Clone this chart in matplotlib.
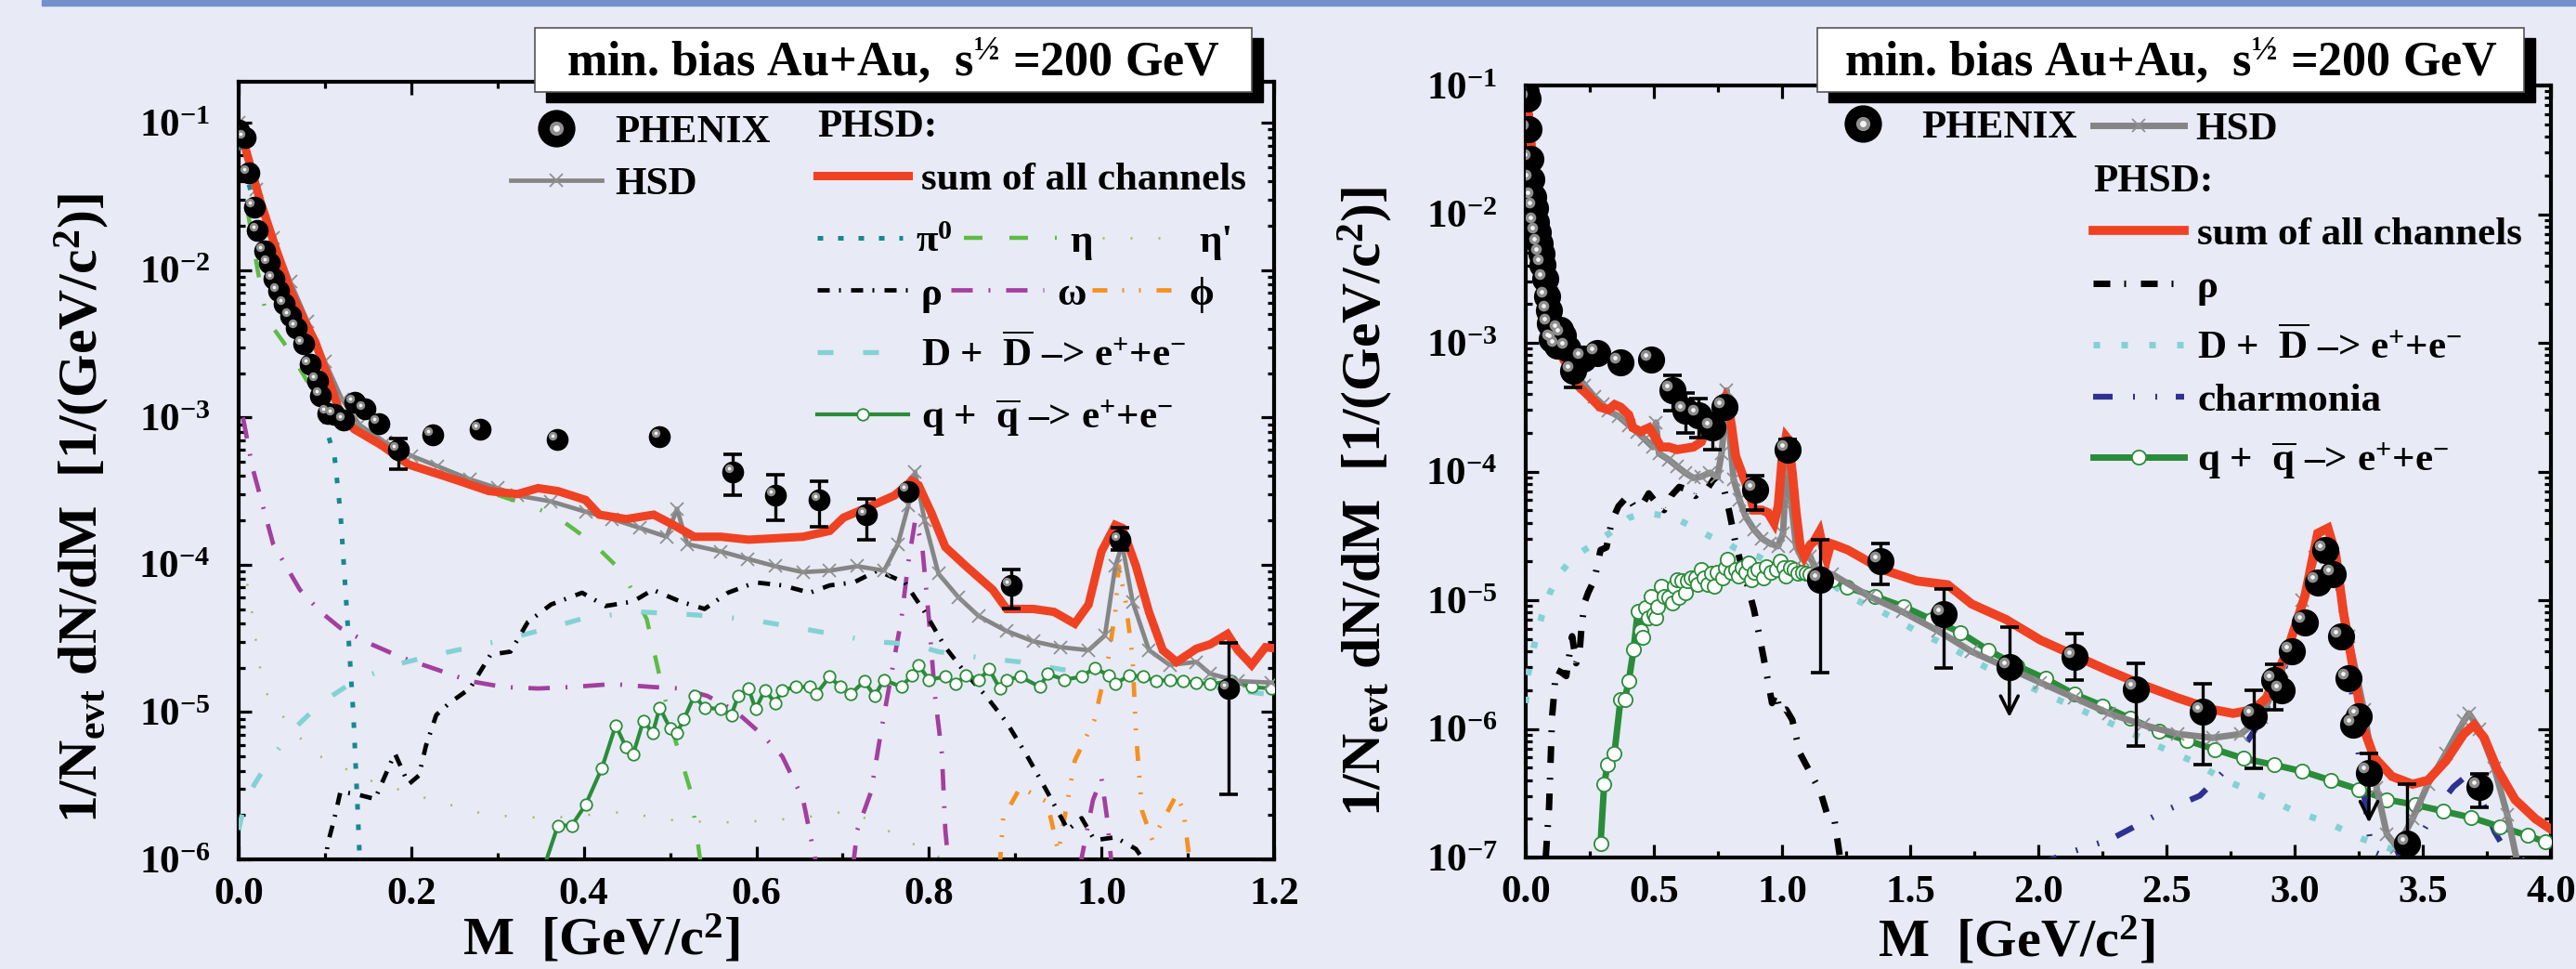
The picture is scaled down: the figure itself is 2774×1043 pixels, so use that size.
"""Dielectron mass spectra, min. bias Au+Au at 200 GeV: PHENIX vs PHSD / HSD."""
import numpy as np
import matplotlib
matplotlib.use('Agg')
from matplotlib import pyplot as plt
from matplotlib import transforms as mtransforms
from matplotlib.legend import Legend
from matplotlib.lines import Line2D
from matplotlib.patches import Rectangle
from matplotlib.ticker import LogLocator, MultipleLocator, NullFormatter

plt.rcParams['font.family'] = ['Liberation Serif', 'DejaVu Serif']
plt.rcParams['font.weight'] = 'bold'
plt.rcParams['axes.labelweight'] = 'bold'
plt.rcParams['mathtext.fontset'] = 'custom'
plt.rcParams['mathtext.rm'] = 'Liberation Serif:bold'
plt.rcParams['mathtext.it'] = 'Liberation Serif:bold'
plt.rcParams['mathtext.bf'] = 'Liberation Serif:bold'
plt.rcParams['lines.scale_dashes'] = False

# ---------------- data ----------------
# y values are stored as log10(1/N dN/dM)

# PHENIX points; nan = no visible bar / no arrow
phx_m = [0.000, 0.007, 0.012, 0.018, 0.022, 0.030, 0.035, 0.041, 0.046, 0.053,
         0.060, 0.067, 0.075, 0.083, 0.091, 0.095, 0.103, 0.111, 0.122, 0.134,
         0.146, 0.162, 0.185, 0.225, 0.280, 0.369, 0.488, 0.573, 0.622, 0.673,
         0.727, 0.776, 0.895, 1.021, 1.147, 1.385, 1.630, 1.887, 2.140, 2.380,
         2.640, 2.840, 2.920, 2.950, 2.990, 3.040, 3.090, 3.120, 3.150, 3.180,
         3.210, 3.230, 3.250, 3.290, 3.440, 3.720]
phx_lg = [-1.05, -1.10, -1.34, -1.57, -1.73, -1.87, -1.95, -2.06, -2.14, -2.23,
          -2.31, -2.39, -2.50, -2.64, -2.75, -2.85, -2.97, -2.98, -3.02, -2.90,
          -2.94, -3.04, -3.22, -3.12, -3.08, -3.15, -3.13, -3.37, -3.53, -3.56,
          -3.66, -3.50, -4.14, -3.83, -4.84, -4.70, -5.11, -5.52, -5.44, -5.69,
          -5.87, -5.90, -5.62, -5.70, -5.40, -5.17, -4.86, -4.61, -4.80, -5.28,
          -5.61, -5.97, -5.90, -6.34, -6.89, -6.45]
nan = np.nan
phx_lg_hi = [nan] * 22 + [-3.14, nan, nan, nan, nan, -3.25, -3.39, -3.43,
                          -3.55, nan, -4.03, -3.75, -4.53, -4.56, -4.91, -5.21, -5.26, -5.49,
                          -5.65, -5.70, -5.50, nan, nan, nan, nan, nan, nan, nan,
                          nan, nan, nan, -6.19, -6.43, -6.35]
phx_lg_lo = [nan] * 22 + [-3.35, nan, nan, nan, nan, -3.53, -3.70, -3.74,
                          -3.83, nan, -4.30, -3.90, -5.56, -4.88, -5.53, nan, -5.62, -6.13,
                          -6.28, -6.31, -5.85, nan, nan, nan, nan, nan, nan, nan,
                          nan, nan, nan, nan, -7.30, -6.61]
phx_lg_lim = [nan] * 37 + [-5.91] + [nan] * 15 + [-6.73, nan, nan]

# PHSD: sum of all channels
sum_m = [0.0, 0.007, 0.025, 0.043, 0.060, 0.075, 0.089, 0.103, 0.118, 0.134,
         0.166, 0.197, 0.229, 0.260, 0.290, 0.323, 0.347, 0.370, 0.402, 0.418,
         0.449, 0.481, 0.504, 0.528, 0.559, 0.591, 0.622, 0.654, 0.685, 0.701,
         0.733, 0.760, 0.780, 0.788, 0.803, 0.819, 0.843, 0.874, 0.890, 0.921,
         0.945, 0.969, 0.985, 1.000, 1.016, 1.024, 1.040, 1.055, 1.071, 1.087,
         1.110, 1.126, 1.146, 1.158, 1.174, 1.190, 1.205, 1.257, 1.390, 1.525,
         1.646, 1.740, 1.874, 2.008, 2.142, 2.276, 2.410, 2.544, 2.680, 2.760,
         2.840, 2.890, 2.970, 3.040, 3.090, 3.130, 3.160, 3.190, 3.230, 3.270,
         3.310, 3.380, 3.460, 3.520, 3.590, 3.660, 3.700, 3.740, 3.790, 3.860,
         3.940, 4.000]
sum_lg = [-1.05, -1.155, -1.53, -1.85, -2.14, -2.33, -2.49, -2.72, -2.98, -3.08,
          -3.19, -3.32, -3.38, -3.44, -3.50, -3.52, -3.48, -3.50, -3.56, -3.66,
          -3.69, -3.66, -3.73, -3.81, -3.81, -3.83, -3.82, -3.81, -3.77, -3.68,
          -3.60, -3.53, -3.43, -3.46, -3.65, -3.88, -4.01, -4.17, -4.30, -4.30,
          -4.32, -4.40, -4.27, -3.91, -3.73, -3.75, -4.01, -4.32, -4.58, -4.66,
          -4.57, -4.54, -4.47, -4.58, -4.68, -4.56, -4.57, -4.61, -4.76, -4.85,
          -4.88, -5.03, -5.15, -5.31, -5.43, -5.55, -5.66, -5.76, -5.85, -5.88,
          -5.85, -5.76, -5.40, -4.97, -4.48, -4.44, -4.64, -5.09, -5.55, -6.00,
          -6.22, -6.37, -6.43, -6.40, -6.25, -6.04, -5.97, -6.07, -6.31, -6.55,
          -6.70, -6.78]

# HSD
hsd_m = [0.0, 0.02, 0.04, 0.06, 0.08, 0.10, 0.12, 0.14, 0.17, 0.20,
         0.23, 0.268, 0.30, 0.323, 0.362, 0.402, 0.433, 0.465, 0.496, 0.508,
         0.52, 0.559, 0.59, 0.622, 0.654, 0.685, 0.717, 0.748, 0.764, 0.776,
         0.784, 0.795, 0.811, 0.834, 0.858, 0.89, 0.921, 0.953, 0.985, 1.004,
         1.016, 1.024, 1.036, 1.055, 1.079, 1.11, 1.126, 1.158, 1.197, 1.34,
         1.47, 1.61, 1.74, 1.874, 2.008, 2.142, 2.276, 2.41, 2.544, 2.68,
         2.79, 2.87, 2.95, 3.03, 3.08, 3.12, 3.17, 3.21, 3.27, 3.32,
         3.36, 3.40, 3.46, 3.52, 3.59, 3.66, 3.68, 3.72, 3.78, 3.83, 3.87]
hsd_lg = [-1.00, -1.45, -1.78, -2.08, -2.35, -2.62, -2.88, -3.05, -3.17, -3.26,
          -3.33, -3.42, -3.48, -3.53, -3.57, -3.64, -3.69, -3.75, -3.81, -3.62,
          -3.86, -3.91, -3.96, -4.01, -4.05, -4.04, -4.01, -4.04, -3.86, -3.60,
          -3.37, -3.70, -4.06, -4.22, -4.35, -4.45, -4.52, -4.56, -4.58, -4.48,
          -4.01, -3.86, -4.25, -4.58, -4.68, -4.66, -4.74, -4.79, -4.80, -4.97,
          -5.09, -5.24, -5.40, -5.52, -5.64, -5.76, -5.88, -5.97, -6.04, -6.07,
          -6.04, -5.91, -5.55, -5.00, -4.67, -4.55, -4.79, -5.28, -5.85, -6.46,
          -6.82, -6.92, -6.70, -6.43, -6.19, -5.94, -5.88, -6.00, -6.31, -6.67, -7.05]

# single channels
pi0_m = [0.0, 0.02, 0.04, 0.06, 0.08, 0.10, 0.111, 0.118, 0.126, 0.133, 0.138, 0.141]
pi0_lg = [-1.15, -1.60, -2.00, -2.35, -2.70, -3.05, -3.26, -3.65, -4.37, -5.02, -5.67, -6.10]

eta_m = [0.011, 0.022, 0.030, 0.036, 0.052, 0.063, 0.079, 0.111, 0.150, 0.189,
         0.229, 0.268, 0.307, 0.339, 0.370, 0.410, 0.445, 0.473, 0.488, 0.504,
         0.524, 0.536]
eta_lg = [-1.62, -2.00, -2.25, -2.36, -2.49, -2.59, -2.75, -2.95, -3.12, -3.25,
          -3.38, -3.46, -3.54, -3.60, -3.68, -3.85, -4.05, -4.37, -4.76, -5.15,
          -5.54, -6.05]

etap_m = [0.0, 0.012, 0.016, 0.024, 0.032, 0.06, 0.087, 0.15, 0.22, 0.289,
          0.36, 0.443, 0.51, 0.577, 0.65, 0.71, 0.757, 0.80, 0.85]
etap_lg = [-3.95, -4.17, -4.35, -4.68, -4.87, -5.10, -5.28, -5.46, -5.59, -5.70,
           -5.72, -5.68, -5.74, -5.75, -5.72, -5.67, -5.82, -5.95, -6.10]

rho_m = [0.078, 0.091, 0.103, 0.111, 0.118, 0.138, 0.158, 0.181, 0.197, 0.209,
         0.217, 0.229, 0.244, 0.268, 0.292, 0.315, 0.335, 0.362, 0.398, 0.425,
         0.457, 0.480, 0.512, 0.540, 0.567, 0.599, 0.630, 0.662, 0.685, 0.713,
         0.740, 0.772, 0.795, 0.819, 0.843, 0.866, 0.890, 0.914, 0.937, 0.961,
         0.977, 0.992, 1.016, 1.040, 1.070, 1.110, 1.150, 1.177, 1.204, 1.230]
rho_lg = [-7.00, -6.61, -5.90, -5.72, -5.54, -5.56, -5.59, -5.28, -5.49, -5.43,
          -5.23, -5.02, -4.94, -4.84, -4.61, -4.59, -4.39, -4.27, -4.19, -4.28,
          -4.25, -4.17, -4.25, -4.30, -4.19, -4.12, -4.14, -4.19, -4.14, -4.12,
          -4.04, -4.12, -4.32, -4.56, -4.74, -4.89, -5.07, -5.30, -5.54, -5.80,
          -5.72, -5.87, -5.85, -5.93, -6.19, -6.34, -6.49, -6.67, -6.70, -7.05]

omega_m = [0.005, 0.016, 0.028, 0.040, 0.055, 0.071, 0.095, 0.118, 0.150, 0.189,
           0.229, 0.268, 0.307, 0.347, 0.386, 0.433, 0.480, 0.512, 0.543, 0.575,
           0.606, 0.630, 0.654, 0.670, nan, 0.712, 0.717, 0.733, 0.744, 0.756,
           0.768, 0.776, 0.784, 0.792, 0.800, 0.807, 0.815, 0.819, 0.823, nan,
           0.975, 0.990, 1.000, 1.006, 1.012]
omega_lg = [-3.00, -3.34, -3.60, -3.86, -4.01, -4.17, -4.32, -4.43, -4.53, -4.63,
            -4.71, -4.79, -4.83, -4.84, -4.83, -4.81, -4.83, -4.84, -4.89, -4.99,
            -5.15, -5.30, -5.59, -6.05, nan, -6.05, -5.80, -5.54, -5.15, -4.76,
            -4.37, -3.99, -3.70, -3.86, -4.37, -4.89, -5.28, -5.80, -6.05, nan,
            -6.05, -5.60, -5.45, -5.70, -6.05]

phi_m = [0.882, 0.886, 0.906, 0.937, 0.950, 0.969, 0.992, 1.008, 1.016, 1.020,
         1.028, 1.036, 1.040, 1.047, 1.059, 1.087, 1.095, 1.103]
phi_lg = [-6.05, -5.72, -5.51, -5.61, -5.95, -5.33, -5.05, -4.63, -4.32, -4.01,
          -4.25, -4.63, -5.15, -5.67, -5.87, -5.56, -5.67, -6.05]

dd_m = [0.0, 0.008, 0.032, 0.063, 0.095, 0.134, 0.181, 0.229, 0.292, 0.347,
        0.402, 0.465, 0.528, 0.591, 0.669, 0.733, 0.780, 0.811, 0.858, 0.906,
        0.953, 1.016, 1.079, 1.142, 1.205, 1.257, 1.390, 1.525, 1.660, 1.794,
        1.928, 2.062, 2.196, 2.330, 2.463, 2.600, 2.730, 2.870, 3.000, 3.130,
        3.270, 3.400, 3.460]
dd_lg = [-5.80, -5.59, -5.36, -5.12, -4.94, -4.79, -4.68, -4.61, -4.53, -4.45,
         -4.36, -4.32, -4.34, -4.37, -4.45, -4.52, -4.54, -4.59, -4.63, -4.66,
         -4.71, -4.75, -4.79, -4.84, -4.89, -4.97, -5.09, -5.24, -5.37, -5.52,
         -5.64, -5.76, -5.88, -6.00, -6.13, -6.25, -6.40, -6.52, -6.64, -6.73,
         -6.86, -6.95, -7.05]

charm_m = [2.00, 2.14, 2.28, 2.49, 2.63, 2.705, 2.786, 2.866, 2.95, 3.03,
           3.08, 3.11, 3.15, 3.20, 3.25, 3.30, 3.36, 3.42, 3.50, 3.56,
           3.62, 3.68, 3.72, 3.78, 3.84, 3.87]
charm_lg = [-7.05, -6.95, -6.86, -6.64, -6.52, -6.37, -6.19, -5.94, -5.60, -5.05,
            -4.60, -4.45, -4.65, -5.30, -6.20, -6.95, -7.00, -6.95, -6.80, -6.60,
            -6.45, -6.35, -6.50, -6.80, -7.00, -7.10]

qq_m = [0.292, 0.306, 0.319, 0.346, 0.370, 0.386, 0.402, 0.421, 0.437, 0.449,
        0.457, 0.469, 0.480, 0.488, 0.500, 0.508, 0.516, 0.528, 0.540, 0.559,
        0.571, 0.579, 0.591, 0.599, 0.610, 0.622, 0.630, 0.646, 0.662, 0.669,
        0.685, 0.697, 0.709, 0.725, 0.737, 0.748, 0.768, 0.780, 0.788, 0.800,
        0.819, 0.831, 0.843, 0.858, 0.870, 0.882, 0.890, 0.906, 0.929, 0.937,
        0.957, 0.977, 0.992, 1.008, 1.016, 1.032, 1.048, 1.063, 1.079, 1.095,
        1.110, 1.126, 1.150, 1.174, 1.197, 1.252, 1.363, 1.474, 1.584, 1.695,
        1.806, 1.917, 2.028, 2.140, 2.250, 2.360, 2.470, 2.580, 2.690, 2.800,
        2.920, 3.030, 3.140, 3.250, 3.360, 3.470, 3.580, 3.690, 3.800, 3.910, 3.980]
qq_lg = [-6.89, -6.43, -6.28, -6.19, -5.77, -5.77, -5.63, -5.38, -5.09, -5.24,
         -5.29, -5.06, -5.14, -4.97, -5.11, -5.14, -5.05, -4.89, -4.97, -4.98,
         -5.02, -4.89, -4.84, -4.98, -4.85, -4.94, -4.85, -4.83, -4.83, -4.88,
         -4.76, -4.83, -4.88, -4.79, -4.89, -4.78, -4.83, -4.75, -4.68, -4.78,
         -4.76, -4.81, -4.75, -4.78, -4.71, -4.84, -4.78, -4.76, -4.83, -4.74,
         -4.78, -4.76, -4.70, -4.75, -4.81, -4.75, -4.76, -4.79, -4.78, -4.79,
         -4.80, -4.81, -4.79, -4.83, -4.84, -4.90, -4.97, -5.05, -5.15, -5.25,
         -5.39, -5.51, -5.61, -5.73, -5.82, -5.92, -6.02, -6.09, -6.16, -6.23,
         -6.28, -6.33, -6.40, -6.47, -6.55, -6.59, -6.64, -6.69, -6.76, -6.83, -6.88]

xticks_left = [0.0, 0.2, 0.4, 0.6, 0.8, 1.0, 1.2]
xticklabels_left = ['0.0', '0.2', '0.4', '0.6', '0.8', '1.0', '1.2']
xticks_right = [0.0, 0.5, 1.0, 1.5, 2.0, 2.5, 3.0, 3.5, 4.0]
xticklabels_right = ['0.0', '0.5', '1.0', '1.5', '2.0', '2.5', '3.0', '3.5', '4.0']
yexp_left = [-6, -5, -4, -3, -2, -1]
yexp_right = [-7, -6, -5, -4, -3, -2, -1]

title = 'min. bias Au+Au,  s$^{½}$ =200 GeV'
ylab = '1/N$_{evt}$ dN/dM  [1/(GeV/c$^{2}$)]'
xlab = 'M  [GeV/c$^{2}$]'
lab_dd = 'D +  $\\overline{D}$ –> e$^{+}$+e$^{-}$'
lab_qq = 'q +  $\\overline{q}$ –> e$^{+}$+e$^{-}$'

# ---------------- styles ----------------
W, H = 2774, 1043
BG = '#e8eaf5'
RED = '#ef4223'
GREY = '#858585'
QQ = '#2a8c3a'


def px(*v):
    """pixel lengths -> points (figure drawn at 100 dpi)"""
    return tuple(a * 0.72 for a in v)


st_sum = dict(color=RED, lw=6.5, solid_joinstyle='miter')
st_hsd = dict(color=GREY, lw=3.4, marker='x', ms=10, mew=1.3, mec='#909090')
st_pi0 = dict(color='#15898b', lw=3.6, dashes=px(6, 16))
st_eta = dict(color='#5cbc45', lw=3.2, dashes=px(20, 29, 20, 29, 2, 29))
st_etap = dict(color='#b4b06a', lw=1.8, dashes=px(2, 28))
st_rho = dict(color='k', lw=3.4, dashes=px(13, 10, 2, 11))
st_omega = dict(color='#a23f9f', lw=3.4, dashes=px(23, 17, 2, 17))
st_phi = dict(color='#f5901f', lw=3.4, dashes=px(16, 16, 2, 16, 2, 17))
st_dd = dict(color='#82d2d3', lw=3.8, dashes=px(17, 32, 17, 32, 2, 32))
st_qq = dict(color=QQ, lw=3.0, marker='o', ms=9, mfc='white', mec=QQ, mew=1.3)

st_sum_r = dict(st_sum, lw=7)
st_hsd_r = dict(st_hsd, lw=5)
st_rho_r = dict(color='k', lw=5, dashes=px(18, 15, 2, 16))
st_dd_r = dict(color='#82d2d3', lw=5, dashes=px(7, 23))
st_charm = dict(color='#2e3192', lw=4.5, dashes=px(21, 22, 2, 22, 2, 20))
st_qq_r = dict(st_qq, lw=5, ms=11)

fig = plt.figure(figsize=(W / 100, H / 100), dpi=100, facecolor=BG)


def frac(x0, y0, x1, y1):
    return [x0 / W, 1 - y1 / H, (x1 - x0) / W, (y1 - y0) / H]


def curve(ax, m, lg, zorder=3, **kw):
    ax.plot(m, np.power(10.0, np.asarray(lg, float)), zorder=zorder, **kw)


def phenix(ax, ms):
    m = np.asarray(phx_m)
    y = np.power(10.0, phx_lg)
    hi = np.power(10.0, phx_lg_hi)
    lo = np.power(10.0, phx_lg_lo)
    has = np.isfinite(hi)
    lo = np.where(np.isfinite(lo), lo, y)
    ax.errorbar(m[has], y[has], yerr=[y[has] - lo[has], hi[has] - y[has]],
                fmt='none', ecolor='k', elinewidth=2.4, capsize=7, capthick=2.6,
                zorder=7)
    lim = np.power(10.0, phx_lg_lim)
    for xi, yi, li in zip(m, y, lim):
        if np.isfinite(li):
            ax.annotate('', xy=(xi, li), xytext=(xi, yi), zorder=7,
                        arrowprops=dict(arrowstyle='->', color='k', lw=2.6,
                                        mutation_scale=34, shrinkA=0, shrinkB=0))
    ax.plot(m, y, 'o', color='k', ms=ms, mew=0, zorder=8)
    # grey highlight makes the points look like the shaded spheres
    off = mtransforms.offset_copy(ax.transData, fig=fig, x=-ms * 0.2,
                                  y=ms * 0.18, units='points')
    ax.plot(m, y, 'o', color='#8e8e8e', ms=ms * 0.4, mew=0, transform=off, zorder=9)
    ax.plot(m, y, 'o', color='#f4f4f4', ms=ms * 0.16, mew=0, transform=off, zorder=9)


def key(ax, handle, label, x, y, hl=98, pad=14, fs=31):
    fpx = fs / 0.72
    leg = Legend(ax, [handle], [label], loc='center left',
                 bbox_to_anchor=(x / W, 1 - y / H), bbox_transform=fig.transFigure,
                 frameon=False, fontsize=fs, handlelength=hl / fpx,
                 handletextpad=pad / fpx, borderpad=0, borderaxespad=0, numpoints=1)
    ax.add_artist(leg)


def phenix_handle():
    return (Line2D([], [], ls='none', marker='o', color='k', ms=29, mew=0),
            Line2D([], [], ls='none', marker='o', color='#8e8e8e', ms=11, mew=0),
            Line2D([], [], ls='none', marker='o', color='#f4f4f4', ms=5, mew=0))


def frame(ax, xmax, xticks, xlabels, xminor, yexp, ytop):
    ax.set_facecolor('none')
    ax.set_yscale('log')
    ax.set_xlim(0, xmax)
    ax.set_ylim(10.0 ** yexp[0], ytop)
    ax.set_xticks(xticks, xlabels)
    ax.xaxis.set_minor_locator(MultipleLocator(xminor))
    ax.set_yticks([10.0 ** e for e in yexp], ['$10^{%d}$' % e for e in yexp])
    ax.yaxis.set_minor_locator(LogLocator(base=10, subs=np.arange(2, 10), numticks=40))
    ax.yaxis.set_minor_formatter(NullFormatter())
    ax.tick_params(which='both', direction='in', top=True, right=True, width=2.3,
                   labelsize=31)
    ax.tick_params(which='major', length=10)
    ax.tick_params(which='minor', length=5)
    ax.tick_params(axis='x', pad=14)
    ax.tick_params(axis='y', pad=22)
    for s in ax.spines.values():
        s.set_linewidth(3)
    ax.set_xlabel(xlab, fontsize=42)
    ax.set_ylabel(ylab, fontsize=43)


# ---------------- left panel ----------------
axL = fig.add_axes(frac(257, 88, 1372, 925))
frame(axL, 1.2, xticks_left, xticklabels_left, 0.1, yexp_left, 0.19)
curve(axL, etap_m, etap_lg, zorder=2, **st_etap)
curve(axL, pi0_m, pi0_lg, **st_pi0)
curve(axL, eta_m, eta_lg, **st_eta)
curve(axL, omega_m, omega_lg, **st_omega)
curve(axL, phi_m, phi_lg, **st_phi)
curve(axL, dd_m, dd_lg, **st_dd)
curve(axL, rho_m, rho_lg, **st_rho)
curve(axL, qq_m, qq_lg, **st_qq)
curve(axL, hsd_m, hsd_lg, zorder=4, **st_hsd)
curve(axL, sum_m, sum_lg, zorder=5, **st_sum)
phenix(axL, 17)
axL.xaxis.set_label_coords(0.35, -0.07)
axL.yaxis.set_label_coords(-0.123, 0.452)

key(axL, phenix_handle(), 'PHENIX', 550, 142)
key(axL, Line2D([], [], **st_hsd), 'HSD', 550, 198)
fig.text(880 / W, 1 - 137 / H, 'PHSD:', fontsize=31, va='center')
key(axL, Line2D([], [], **st_sum), 'sum of all channels', 880, 193)
key(axL, Line2D([], [], **st_pi0), 'π$^{0}$', 880, 260, hl=92)
key(axL, Line2D([], [], **st_eta), 'η', 1038, 260, hl=100)
key(axL, Line2D([], [], **st_etap), "η'", 1187, 260, hl=90)
key(axL, Line2D([], [], **st_rho), 'ρ', 880, 317)
key(axL, Line2D([], [], **st_omega), 'ω', 1024, 317, hl=100)
key(axL, Line2D([], [], **st_phi), 'ϕ', 1176, 317, hl=90)
key(axL, Line2D([], [], **st_dd), lab_dd, 880, 382)
key(axL, Line2D([], [], **st_qq), lab_qq, 880, 450)

# ---------------- right panel ----------------
axR = fig.add_axes(frac(1643, 92, 2747, 923))
frame(axR, 4.0, xticks_right, xticklabels_right, 0.25, yexp_right, 0.1)
curve(axR, dd_m, dd_lg, **st_dd_r)
curve(axR, charm_m, charm_lg, **st_charm)
curve(axR, rho_m, rho_lg, **st_rho_r)
curve(axR, qq_m, qq_lg, **st_qq_r)
curve(axR, hsd_m, hsd_lg, zorder=4, **st_hsd_r)
curve(axR, sum_m, sum_lg, zorder=5, **st_sum_r)
phenix(axR, 21)
axR.xaxis.set_label_coords(0.479, -0.075)
axR.yaxis.set_label_coords(-0.128, 0.461)

key(axR, phenix_handle(), 'PHENIX', 1957, 137)
key(axR, Line2D([], [], **st_hsd_r), 'HSD', 2254, 139, pad=12)
fig.text(2254 / W, 1 - 196 / H, 'PHSD:', fontsize=31, va='center')
key(axR, Line2D([], [], **st_sum_r), 'sum of all channels', 2254, 252)
key(axR, Line2D([], [], **st_rho_r), 'ρ', 2254, 309)
key(axR, Line2D([], [], **st_dd_r), lab_dd, 2254, 374)
key(axR, Line2D([], [], **st_charm), 'charmonia', 2254, 431)
key(axR, Line2D([], [], **st_qq_r), lab_qq, 2254, 496)

# ---------------- title boxes and slide banner ----------------
for x0, x1 in ((576, 1348), (1957, 2718)):
    fig.add_artist(Rectangle(((x0 + 12) / W, 1 - 110 / H), (x1 - x0) / W, 69 / H,
                             transform=fig.transFigure, color='k', zorder=10))
    fig.add_artist(Rectangle((x0 / W, 1 - 99 / H), (x1 - x0) / W, 69 / H,
                             transform=fig.transFigure, facecolor='white',
                             edgecolor='#555555', lw=1.2, zorder=11))
    fig.text((x0 + x1) / 2 / W, 1 - 66 / H, title, fontsize=37.5, ha='center',
             va='center', zorder=12)
fig.add_artist(Rectangle((45 / W, 1 - 6 / H), 1, 6 / H, transform=fig.transFigure,
                         color='#7390cc', zorder=10))

fig.savefig('out.png', dpi=100, facecolor=BG)
